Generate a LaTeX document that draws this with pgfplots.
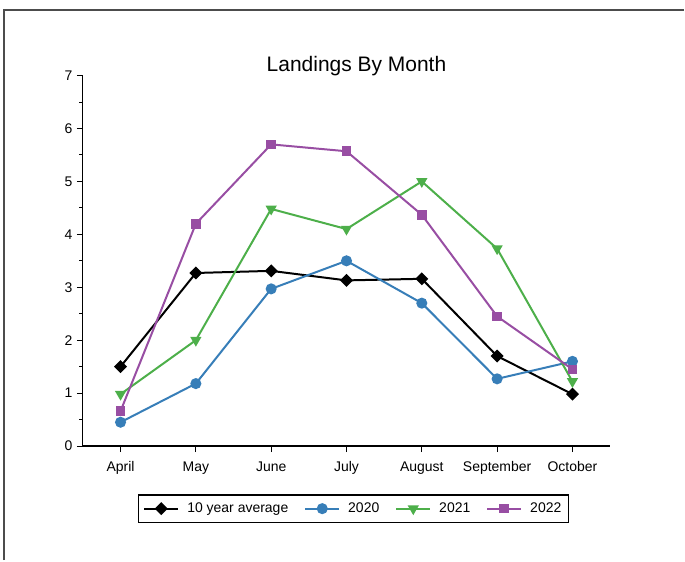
\documentclass[border=0pt]{standalone}
\usepackage{fontspec}
\setmainfont{Liberation Sans}
\usepackage{pgfplots}
\pgfplotsset{compat=1.18}

\definecolor{cavg}{RGB}{0,0,0}
\definecolor{c2020}{RGB}{55,126,184}
\definecolor{c2021}{RGB}{77,175,74}
\definecolor{c2022}{RGB}{152,78,163}

\begin{document}
\begin{tikzpicture}[x=1pt,y=1pt]
% page frame (685 x 561)
\path (0,0) rectangle (685,561);
\draw[line width=2pt, black!70] (4.5,0) -- (4.5,551) -- (685,551);

\begin{axis}[
    at={(83pt,114.3pt)}, anchor=south west,
    scale only axis, width=528pt, height=371pt,
    xmin=-0.5, xmax=6.5, ymin=0, ymax=7,
    axis lines=left,
    axis line style={-, line width=1.2pt},
    xtick={0,1,2,3,4,5,6},
    xticklabels={April,May,June,July,August,September,October},
    ytick={0,1,2,3,4,5,6,7},
    minor y tick num=1,
    tick align=outside,
    major tick length=6pt, minor tick length=3.5pt,
    tick style={black, line width=1pt},
    ticklabel style={font=\fontsize{14}{16}\selectfont},
    xticklabel style={yshift=-6pt},
    yticklabel style={xshift=-1pt},
    /pgf/number format/assume math mode=true,
    title={Landings By Month},
    title style={at={(0.519,1.01)}, anchor=center, font=\fontsize{21}{24}\selectfont},
    legend columns=4,
    legend style={at={(0.513,-0.169)}, anchor=center, draw=black, line width=1.2pt,
        font=\fontsize{14}{16}\selectfont, inner xsep=5pt, inner ysep=6pt,
        /tikz/every odd column/.append style={column sep=6pt},
        /tikz/every even column/.append style={column sep=14pt}},
    legend image code/.code={%
        \draw[mark repeat=2, mark phase=2] plot coordinates {(0pt,0pt) (17pt,0pt) (34pt,0pt)};},
    every axis plot/.append style={line width=2pt},
]
\addplot[cavg, mark=square*, mark size=3.6pt, mark options={rotate=45, solid}] coordinates {
    (0,1.50) (1,3.27) (2,3.31) (3,3.13) (4,3.16) (5,1.70) (6,0.98)};
\addlegendentry{10 year average}
\addplot[c2020, mark=*, mark size=4.5pt] coordinates {
    (0,0.45) (1,1.18) (2,2.97) (3,3.50) (4,2.70) (5,1.27) (6,1.60)};
\addlegendentry{2020}
\addplot[c2021, mark=triangle*, mark size=4.5pt, mark options={rotate=180}] coordinates {
    (0,0.98) (1,2.00) (2,4.48) (3,4.10) (4,5.00) (5,3.73) (6,1.22)};
\addlegendentry{2021}
\addplot[c2022, mark=square*, mark size=3.8pt] coordinates {
    (0,0.66) (1,4.20) (2,5.70) (3,5.57) (4,4.37) (5,2.45) (6,1.45)};
\addlegendentry{2022}
\end{axis}
\end{tikzpicture}
\end{document}
